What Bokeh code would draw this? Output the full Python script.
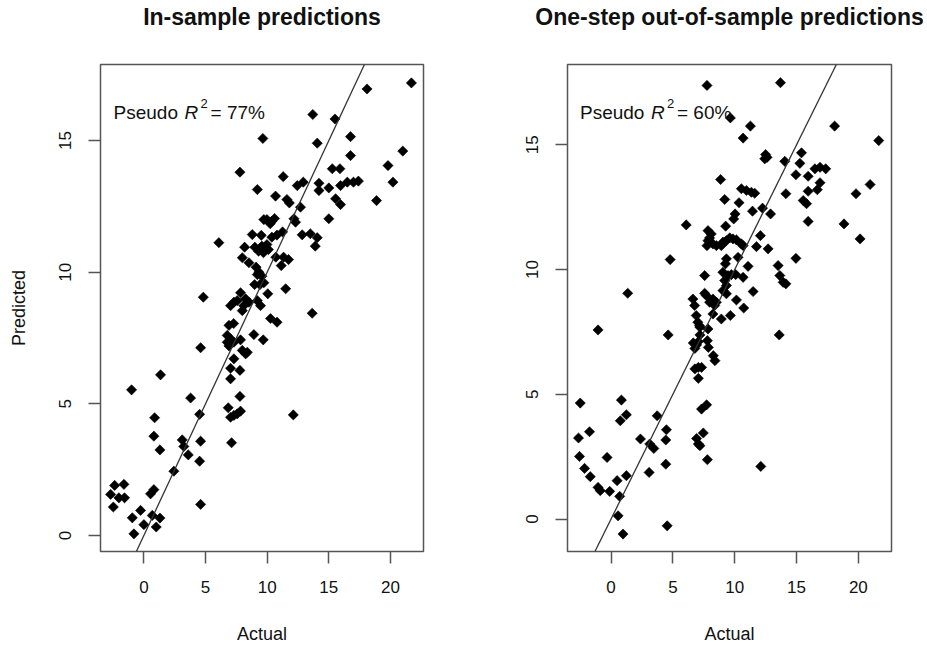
import math
from bokeh.plotting import figure
from bokeh.layouts import row
from bokeh.models import Label, Slope, Range1d, FixedTicker, Title
from bokeh.embed import file_html
from bokeh.resources import INLINE

# ---------------- data ----------------
ins_actual = [21.7, 18.1, 13.7, 15.5, 9.65, 14.06, 16.76, 16.76, 21.0, 19.8, 20.2, 18.87,
              7.79, 9.2, 11.3, 10.68, 11.6, 11.8, 12.44, 12.93, 14.2, 14.2, 15.0, 15.28, 15.9, 15.95,
              16.5, 17.0, 17.4, 15.55, 15.95, 15.0, 12.7, 12.17, 12.3, 12.84, 13.5, 14.06, 13.9,
              9.98, 10.38, 10.25, 10.6, 9.73, 8.79, 9.52, 10.38, 10.79, 11.25,
              8.17, 9.57, 9.98, 9.3, 9.7, 10.1, 9.0, 9.4, 6.08, 10.7, 11.33, 11.73, 11.14,
              7.98, 8.52, 9.1, 9.33, 9.57, 9.2, 8.98, 9.41, 9.73, 10.05, 11.5, 4.82, 7.84,
              8.25, 7.57, 7.3, 8.52, 7.03, 8.1, 9.2, 9.46, 7.98, 13.65, 6.9, 7.28, 10.27, 10.8,
              6.76, 7.03, 6.76, 7.3, 7.84, 6.9, 4.6, 8.92, 9.68, 7.98, 8.39, 8.25, 7.3, 7.03, 7.79, 7.03,
              1.35, -1.0, 3.79, 7.79, 4.52, 6.84, 7.03, 7.3, 7.57, 7.84, 12.12, 0.87, 0.81, 1.3,
              3.11, 3.24, 3.6, 4.6, 7.11, 4.52, 2.43, 4.6,
              -2.37, -1.62, -2.7, -2.03, -1.57, -2.48, 0.54, 0.81, -0.94, -0.27, 0.0, -0.81, 0.68, 1.3, 1.0]
ins_pred = [17.19, 16.96, 15.99, 15.82, 15.08, 14.9, 15.15, 14.43, 14.6, 14.05, 13.42, 12.72,
            13.8, 13.14, 13.63, 12.89, 12.76, 12.63, 13.29, 13.42, 13.38, 13.1, 13.2, 13.93, 13.93, 13.29,
            13.42, 13.42, 13.46, 12.79, 12.57, 12.03, 12.47, 12.03, 11.9, 11.42, 11.46, 11.31, 10.99,
            12.0, 11.94, 11.84, 12.04, 12.0, 11.43, 11.4, 11.33, 11.41, 11.53,
            10.95, 10.99, 11.05, 10.8, 10.74, 10.86, 10.95, 10.9, 11.12, 10.57, 10.57, 10.48, 10.25,
            10.55, 10.36, 10.19, 10.0, 9.85, 9.91, 9.53, 9.53, 9.6, 9.18, 9.37, 9.05, 9.22,
            8.99, 8.92, 8.86, 8.86, 8.73, 8.73, 8.92, 8.73, 8.54, 8.44, 7.98, 8.05, 8.24, 8.1,
            7.6, 7.47, 7.34, 7.34, 7.43, 7.2, 7.13, 7.63, 7.43, 7.03, 6.96, 6.9, 6.71, 6.35, 6.27, 5.95,
            6.1, 5.53, 5.22, 5.28, 4.6, 4.85, 4.49, 4.56, 4.62, 4.72, 4.58, 4.47, 3.77, 3.25,
            3.63, 3.38, 3.06, 3.58, 3.52, 2.82, 2.44, 1.18,
            1.9, 1.94, 1.56, 1.43, 1.43, 1.08, 1.58, 1.74, 0.67, 0.95, 0.41, 0.06, 0.76, 0.66, 0.32]

oos_actual = [7.76, 13.7, 9.65, 11.27, 10.68, 18.08, 21.65,
              12.5, 12.62, 12.43, 14.05, 15.4, 15.27, 14.95, 15.94, 16.49, 16.9, 17.36, 16.9, 16.68, 15.94,
              15.54, 15.81, 15.94, 19.81, 20.95, 18.84, 20.14, 14.14, 12.9, 12.25, 11.44,
              10.54, 10.95, 11.35, 11.62, 10.35, 9.19, 8.86, 10.03, 9.92, 6.08, 9.27,
              7.84, 8.1, 7.97, 7.84, 7.76, 8.24, 8.52, 9.05, 9.33, 9.6, 9.86, 10.14, 10.54, 8.92, 10.68,
              12.08, 11.76, 12.7, 14.95, 4.78, 9.33, 9.25, 10.27, 11.08, 13.51, 13.65, 13.92, 14.14,
              7.57, 9.05, 9.46, 9.73, 10.08, 9.19, 9.33, 9.05, 9.33, 10.68, 11.49, 1.35,
              7.57, 7.7, 8.24, 8.52, 7.97, 8.38, 6.62, 6.76, 6.89, 7.02, 7.16, 7.84, 8.24, 8.92, 9.65,
              10.14, 10.73,
              7.19, -1.05, 4.62, 7.19, 6.65, 6.92, 6.78, 7.06, 7.79, 7.87, 8.27, 8.4, 6.78, 7.06, 7.32,
              7.06, 13.6,
              -2.49, 0.84, 0.75, 1.24, 3.73, 7.32, 7.73, -1.74, -2.63, 4.48, 4.43, 2.38, 3.13, 3.46,
              7.46, 6.92, 7.06, 7.19, 7.79, -2.55, -0.32, 4.43, 3.08, -2.14, -1.68, 1.24, 0.49,
              -1.05, -0.87, -0.11, 0.7, 0.57, 0.97, 4.54, 12.11]
oos_pred = [17.38, 17.49, 16.08, 15.75, 15.27, 15.75, 15.17,
            14.61, 14.5, 14.44, 14.34, 14.68, 14.26, 13.8, 13.74, 14.04, 14.1, 14.04, 13.48, 13.2, 13.14,
            12.77, 12.64, 11.93, 13.04, 13.41, 11.83, 11.23, 13.04, 12.23, 12.46, 12.34,
            13.24, 13.17, 13.1, 13.06, 12.68, 12.81, 13.61, 12.23, 12.03, 11.79, 11.74,
            11.56, 11.43, 11.27, 11.16, 10.96, 11.03, 10.96, 11.1, 11.16, 11.27, 11.23, 11.19, 11.03,
            10.96, 10.96,
            11.36, 10.92, 10.83, 10.45, 10.4, 10.43, 10.23, 10.49, 10.13, 10.16, 9.76, 9.49, 9.43,
            9.76, 9.89, 9.76, 9.8, 9.8, 9.56, 9.36, 9.16, 9.03, 9.69, 9.12, 9.05,
            9.05, 8.96, 8.82, 8.69, 8.69, 8.56, 8.82, 8.56, 8.16, 7.89, 7.75, 7.62, 8.22, 8.02, 8.16,
            8.78, 8.46,
            7.69, 7.58, 7.38, 7.38, 7.06, 6.98, 6.84, 7.11, 7.15, 6.88, 6.55, 6.35, 6.02, 6.08, 6.08,
            5.64, 7.38,
            4.65, 4.77, 3.94, 4.18, 4.14, 4.41, 4.58, 3.5, 3.25, 3.58, 3.17, 3.21, 3.01, 2.83,
            3.45, 3.23, 3.01, 2.94, 2.38, 2.51, 2.47, 2.2, 1.87, 2.03, 1.7, 1.74, 1.54,
            1.27, 1.14, 1.11, 0.91, 0.13, -0.6, -0.27, 2.11]

x_ticks = [0, 5, 10, 15, 20]
y_ticks = [0, 5, 10, 15]
titles = ["In-sample predictions", "One-step out-of-sample predictions"]
r2_values = ["77%", "60%"]
x_label = "Actual"
y_label = "Predicted"

FONT = "Liberation Sans"
BOX = "#555555"
TXT = "#111111"
X0, X1 = -3.52, 22.68


def panel(actual, pred, title, r2, yr, show_ylabel, mbl, mbr, lab_xy):
    p = figure(frame_width=323 if show_ylabel else 324, frame_height=487,
               x_range=Range1d(X0, X1), y_range=Range1d(*yr),
               output_backend="svg", toolbar_location=None,
               min_border_left=mbl, min_border_right=mbr,
               min_border_top=64, min_border_bottom=94,
               background_fill_color="white", border_fill_color="white")
    p.title.text = title
    p.title.align = "center"
    p.title.text_font = FONT
    p.title.text_font_size = "23px"
    p.title.text_font_style = "bold"
    p.title.text_color = TXT
    p.title.standoff = 0
    # spacer between the title and the frame
    p.add_layout(Title(text=" ", text_font_size="1px", standoff=32), "above")
    p.grid.visible = False
    p.outline_line_color = BOX
    p.outline_line_width = 1.5
    p.outline_line_alpha = 1.0

    for ax in (p.xaxis, p.yaxis):
        ax.axis_line_color = None
        ax.major_tick_line_color = BOX
        ax.major_tick_line_width = 1.5
        ax.major_tick_out = 12
        ax.major_tick_in = 0
        ax.minor_tick_line_color = None
        ax.major_label_text_font = FONT
        ax.major_label_text_font_size = "17px"
        ax.major_label_text_color = TXT
        ax.axis_label_text_font = FONT
        ax.axis_label_text_font_size = "18px"
        ax.axis_label_text_font_style = "normal"
        ax.axis_label_text_color = TXT
    p.xaxis.ticker = FixedTicker(ticks=x_ticks)
    p.yaxis.ticker = FixedTicker(ticks=y_ticks)
    p.xaxis.major_label_standoff = 17
    p.yaxis.major_label_standoff = 17
    p.yaxis.major_label_orientation = "vertical"
    p.xaxis.axis_label = x_label
    p.xaxis.axis_label_standoff = 28
    if show_ylabel:
        p.yaxis.axis_label = y_label
        p.yaxis.axis_label_standoff = 28

    p.add_layout(Slope(gradient=1, y_intercept=0, line_color="#333333", line_width=1.3))
    p.scatter(actual, pred, marker="square", angle=math.pi / 4, size=7.2,
              fill_color="black", line_color="black", line_width=0.6)

    lx, ly = lab_xy
    common = dict(x=lx, y=ly, text_font=FONT, text_color=TXT, text_baseline="alphabetic")
    p.add_layout(Label(text="Pseudo", text_font_size="19px", x_offset=0, **common))
    p.add_layout(Label(text="R", text_font_size="19px", text_font_style="italic", x_offset=71, **common))
    p.add_layout(Label(text="2", text_font_size="13px", x_offset=87, y_offset=9, **common))
    p.add_layout(Label(text="= " + r2, text_font_size="19px", x_offset=97, **common))
    return p


left = panel(ins_actual, ins_pred, titles[0], r2_values[0], (-0.61, 17.89), True, 100, 40,
             (-2.46, 16.07))
right = panel(oos_actual, oos_pred, titles[1], r2_values[1], (-1.3, 18.22), False, 104, 32,
              (-2.51, 16.31))

layout = row(left, right)
open("out.html", "w").write(file_html(layout, INLINE))
